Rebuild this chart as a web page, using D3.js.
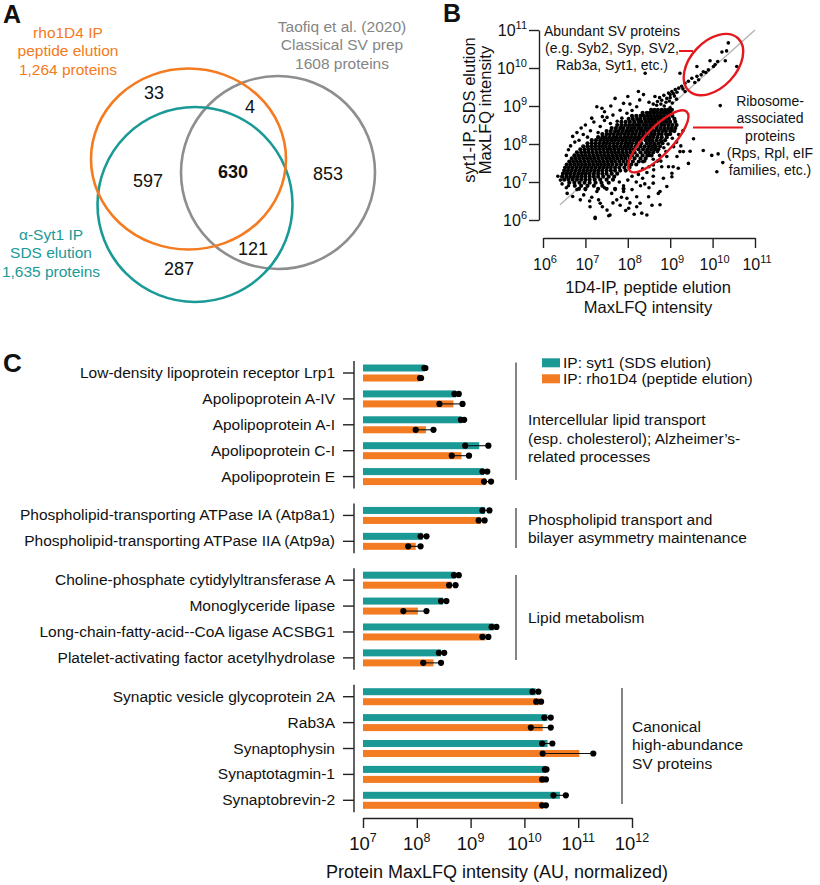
<!DOCTYPE html>
<html><head><meta charset="utf-8">
<script src="https://cdn.jsdelivr.net/npm/d3@7"></script>
<style>
body{margin:0;background:#fff}
svg{display:block}
text{font-family:"Liberation Sans",Arial,Helvetica,sans-serif;fill:#111}
</style></head>
<body><svg id="c" width="820" height="885"></svg>
<script>
// ================= DATA =================
// Panel A – Venn
const vennSetLabels = [
  ["rho1D4 IP","peptide elution","1,264 proteins"],
  ["α-Syt1 IP","SDS elution","1,635 proteins"],
  ["Taofiq et al. (2020)","Classical SV prep","1608 proteins"]
];
const vennCounts = [33, 4, 597, 630, 853, 121, 287];

// Panel B – scatter (log10 values). Dense core read row by row: "log10(y)|log10(x) ..."
const scatterDenseRows = [
"8.9|8.55 8.63 8.71 8.8 8.88 8.96 9.04",
"8.82|8.35 8.45 8.52 8.6 8.68 8.76 8.84 8.92 9.0",
"8.74|8.1 8.2 8.3 8.38 8.46 8.54 8.62 8.7 8.78 8.86 8.95 9.05",
"8.66|8.02 8.12 8.22 8.3 8.4 8.48 8.56 8.64 8.72 8.8 8.88 8.97 9.1",
"8.58|7.85 7.95 8.05 8.15 8.25 8.33 8.42 8.5 8.58 8.66 8.75 8.83 8.92 9.0 9.12",
"8.5|7.75 7.85 7.94 8.03 8.12 8.2 8.28 8.37 8.45 8.54 8.62 8.7 8.79 8.87 8.96 9.05 9.15",
"8.42|7.62 7.72 7.82 7.9 8.0 8.08 8.16 8.25 8.33 8.42 8.5 8.58 8.68 8.77 8.86 8.95 9.03 9.12",
"8.34|7.5 7.6 7.7 7.78 7.87 7.96 8.04 8.12 8.21 8.3 8.38 8.47 8.56 8.64 8.73 8.82 8.9 9.0 9.1",
"8.26|7.4 7.5 7.58 7.67 7.76 7.84 7.93 8.01 8.1 8.18 8.27 8.36 8.45 8.55 8.63 8.72 8.8 8.9 9.0",
"8.18|7.3 7.4 7.48 7.57 7.66 7.74 7.83 7.92 8.0 8.08 8.17 8.26 8.34 8.44 8.52 8.6 8.7 8.8 8.92",
"8.1|7.15 7.25 7.35 7.44 7.53 7.62 7.7 7.79 7.88 7.96 8.05 8.14 8.22 8.3 8.42 8.5 8.58 8.68 8.78 8.88",
"8.02|7.05 7.15 7.24 7.33 7.42 7.5 7.58 7.67 7.76 7.85 7.94 8.02 8.1 8.2 8.32 8.45 8.53 8.62 8.72 8.82",
"7.94|6.95 7.05 7.14 7.23 7.32 7.4 7.48 7.57 7.66 7.74 7.83 7.92 8.0 8.08 8.18 8.3 8.4 8.5 8.58 8.66 8.76",
"7.86|6.88 6.98 7.07 7.16 7.25 7.34 7.43 7.52 7.6 7.69 7.78 7.87 7.96 8.05 8.14 8.25 8.36 8.46 8.55 8.64 8.72",
"7.78|6.8 6.9 6.99 7.08 7.17 7.26 7.35 7.44 7.53 7.62 7.7 7.79 7.88 7.97 8.06 8.16 8.3 8.42 8.5 8.6",
"7.7|6.74 6.83 6.92 7.01 7.1 7.19 7.28 7.37 7.46 7.55 7.64 7.73 7.82 7.91 8.0 8.1 8.22 8.35 8.46 8.56",
"7.62|6.68 6.77 6.86 6.95 7.04 7.13 7.22 7.31 7.4 7.49 7.58 7.67 7.76 7.85 7.94 8.04 8.16 8.3 8.42",
"7.54|6.62 6.71 6.8 6.89 6.98 7.07 7.16 7.25 7.34 7.43 7.52 7.61 7.7 7.8 7.9 8.0 8.12 8.26 8.36",
"7.46|6.56 6.65 6.74 6.83 6.92 7.01 7.1 7.19 7.28 7.37 7.46 7.55 7.64 7.74 7.84 7.95 8.08 8.2",
"7.38|6.52 6.61 6.7 6.79 6.88 6.97 7.06 7.15 7.24 7.33 7.42 7.51 7.6 7.7 7.8 7.92 8.04",
"7.3|6.5 6.59 6.68 6.77 6.86 6.95 7.04 7.13 7.22 7.31 7.4 7.5 7.6 7.7 7.82 7.95",
"7.22|6.47 6.56 6.65 6.74 6.83 6.92 7.01 7.1 7.2 7.3 7.4 7.5 7.62 7.75",
"7.14|6.45 6.55 6.64 6.73 6.82 6.91 7.0 7.1 7.2 7.3 7.42 7.55 7.68",
"7.06|6.5 6.6 6.7 6.8 6.9 7.0 7.1 7.22 7.35 7.5 7.65",
"6.98|6.62 6.74 6.86 6.98 7.1 7.24 7.38 7.55",
"6.9|6.75 6.9 7.05 7.2 7.4",
"6.82|6.85 7.0 7.3 7.5 7.7 7.9"
];
// Sparse / isolated points [log10(x), log10(y)]
const scatterSparse = [
 [10.37,10.66],[10.33,10.45],[10.22,10.42],[10.57,10.04],[10.3,10.19],[10.06,10.09],[9.94,10.19],[10.12,10.17],
 [9.63,10.04],[10.02,10.04],[9.9,9.95],[9.78,9.9],[9.73,9.82],[9.63,9.78],[9.51,9.73],[9.67,9.69],[9.43,9.65],
 [8.41,9.86],[9.23,9.86],[9.84,9.88],[9.58,9.62],[9.35,9.6],[9.27,9.52],[9.2,9.47],[9.12,9.43],[9.04,9.38],
 [8.96,9.34],[9.35,9.38],[9.3,9.45],[9.16,9.36],[9.08,9.32],[8.25,9.38],[8.37,9.3],[9.0,9.3],
 [8.64,9.25],[8.75,9.22],[8.85,9.28],[8.92,9.2],[9.0,9.22],[9.1,9.26],[8.7,9.12],[8.8,9.15],[8.9,9.1],
 [8.98,9.13],[9.05,9.08],[8.6,9.05],[8.68,9.02],[8.78,9.05],[8.86,9.0],[9.15,9.18],[8.5,9.1],[9.0,8.95],
 [7.27,8.98],[7.39,8.94],[7.7,9.2],[7.9,9.07],[7.82,8.89],[7.98,8.81],[7.65,8.76],[7.51,8.7],[7.86,8.68],
 [8.1,8.88],[8.21,8.98],[8.28,9.16],[7.35,8.46],[7.59,8.54],[7.2,8.58],[7.45,8.62],[7.0,8.5],[6.9,8.42],
 [7.12,8.35],[7.3,8.3],[6.95,8.25],[7.05,8.18],[6.85,8.1],[6.75,8.05],[6.65,7.95],[6.6,7.85],[6.7,8.2],
 [6.55,7.7],[8.05,9.05],[7.6,9.0],[7.75,8.6],[8.0,9.25],[7.4,8.72],[7.15,8.68],[6.8,8.3],[7.45,8.85],
 [10.18,9.01],[9.55,8.14],[9.78,7.83],[9.98,7.7],[9.47,7.81],[9.31,7.8],[9.23,7.8],[10.13,7.74],[10.24,7.51],
 [10.1,7.27],[9.07,7.4],[8.96,7.4],[9.04,7.14],[9.19,7.36],[8.84,7.1],[8.6,6.97],[8.76,6.4],[9.16,7.67],
 [9.08,7.93],[8.92,7.67],[8.8,7.4],[8.61,7.32],[9.43,7.49],[9.2,8.25],[9.3,8.35],[9.15,8.05],[9.25,7.95],
 [8.92,6.88],[8.76,6.75],[9.04,7.23],[8.7,7.55],[8.9,7.8],
 [7.23,6.04],[7.55,6.11],[8.02,6.31],[8.45,6.13],[8.33,6.18],[8.57,6.39],[7.11,6.35],[7.35,6.44],[7.74,6.53],
 [7.82,6.39],[7.51,6.26],[8.21,6.35],[6.88,6.53],[6.96,6.66],[6.57,6.7],[8.21,6.61],[7.62,6.7],[7.98,6.57],
 [7.31,6.53],[8.49,6.61],[8.29,6.44],[7.27,6.75],[8.72,6.7],[7.58,6.13],[7.23,6.07],[6.7,6.62],[7.0,6.8],
 [7.15,6.6],[7.45,6.85],[7.7,6.8],[7.9,6.75],[8.1,6.8],[8.3,6.9],[8.5,6.85],[7.85,6.6],[8.05,6.45],[7.4,6.35],
 [7.65,6.45],[7.95,6.25],[8.15,6.15],[6.8,6.8],[6.6,6.9],[7.1,6.5],[8.4,6.95],[8.2,7.0],[8.6,7.15],[7.9,6.9],
 [8.0,7.05],[8.35,7.1],[8.45,7.25],[8.25,7.2],[6.41,7.05],[6.57,7.23],[6.35,7.15],[6.45,6.95],[6.55,6.85],
 [8.1,7.15],[7.8,7.0],[8.5,7.4],[8.35,7.35],[8.4,7.55],[8.6,7.6],[8.5,7.7],[8.7,7.8],[8.65,7.95],[8.8,8.05],
 [8.95,8.0],[9.05,8.15],[8.95,8.25],[9.05,8.35],[9.12,8.42],[8.85,7.9],[8.75,7.7],[8.6,7.45],[8.78,7.55]
];
const scatterTicks = [1e6,1e7,1e8,1e9,1e10,1e11];
const scatterXTitle = ["1D4-IP, peptide elution","MaxLFQ intensity"];
const scatterYTitle = ["syt1-IP, SDS elution","MaxLFQ intensity"];
const annotSV = ["Abundant SV proteins","(e.g. Syb2, Syp, SV2,","Rab3a, Syt1, etc.)"];
const annotRibo = ["Ribosome-","associated","proteins","(Rps, Rpl, eIF","families, etc.)"];
const ellipseCentersLog = [[10.02,10.09],[8.72,8.07]];

// Panel C – bars (log10 intensities)
const barProteins = ["Low-density lipoprotein receptor Lrp1","Apolipoprotein A-IV","Apolipoprotein A-I","Apolipoprotein C-I","Apolipoprotein E",
 "Phospholipid-transporting ATPase IA (Atp8a1)","Phospholipid-transporting ATPase IIA (Atp9a)",
 "Choline-phosphate cytidylyltransferase A","Monoglyceride lipase","Long-chain-fatty-acid--CoA ligase ACSBG1","Platelet-activating factor acetylhydrolase",
 "Synaptic vesicle glycoprotein 2A","Rab3A","Synaptophysin","Synaptotagmin-1","Synaptobrevin-2"];
const barGroup = [0,0,0,0,0,1,1,2,2,2,2,3,3,3,3,3];
const groupLabels = [["Intercellular lipid transport","(esp. cholesterol); Alzheimer’s-","related processes"],
 ["Phospholipid transport and","bilayer asymmetry maintenance"],["Lipid metabolism"],["Canonical","high-abundance","SV proteins"]];
const syt1Mean = [8.15,8.73,8.83,9.16,9.25,9.27,8.11,8.72,8.49,9.43,8.45,10.21,10.43,10.43,10.40,10.66];
const syt1Reps = [[8.14,8.16],[8.70,8.78],[8.82,8.88],[8.90,9.33],[9.22,9.31],[9.22,9.35],[8.07,8.18],[8.69,8.78],[8.45,8.55],[9.39,9.48],[8.41,8.51],[10.15,10.26],[10.37,10.49],[10.33,10.52],[10.38,10.41],[10.54,10.77]];
const rhoMean = [8.07,8.68,8.17,8.83,9.29,9.19,7.98,8.65,8.02,9.28,8.31,10.28,10.34,11.02,10.37,10.35];
const rhoReps = [[8.06,8.08],[8.42,8.85],[7.98,8.31],[8.65,8.97],[9.25,9.38],[9.15,9.26],[7.84,8.07],[8.60,8.72],[7.75,8.18],[9.22,9.33],[8.12,8.45],[10.22,10.31],[10.12,10.49],[10.34,11.28],[10.33,10.40],[10.33,10.40]];
const legendLabels = ["IP: syt1 (SDS elution)","IP: rho1D4 (peptide elution)"];
const barTicks = [1e7,1e8,1e9,1e10,1e11,1e12];
const barXTitle = "Protein MaxLFQ intensity (AU, normalized)";

// ================= STYLE / LAYOUT =================
const ORANGE="#F47B20", TEAL="#1A9A97", GRAY="#8E8E8E", GRAYTXT="#858585", RED="#E3191F";
const BAR_TEAL="#1B9995", BAR_ORANGE="#F37B22";
const svg = d3.select("#c");
const P = v => Math.pow(10, v);

function supLabel(sel, x, y, exp, anchor, size, supSize, supDy){
  const t = sel.append("text").attr("x",x).attr("y",y).attr("text-anchor",anchor).style("font-size",size+"px");
  t.append("tspan").text("10");
  t.append("tspan").attr("dy",supDy).style("font-size",supSize+"px").text(exp);
  return t;
}

// Panel letters
svg.append("text").attr("x",3).attr("y",23).style("font-size","25px").style("font-weight","bold").text("A");
svg.append("text").attr("x",443).attr("y",22).style("font-size","25px").style("font-weight","bold").text("B");
svg.append("text").attr("x",3).attr("y",372).style("font-size","26px").style("font-weight","bold").text("C");

// ================= PANEL A =================
const vennShapes = [
  {cx:278, cy:172.5, rx:97, ry:96.5, color:GRAY},
  {cx:195, cy:204.5, rx:97.5, ry:97.5, color:TEAL},
  {cx:188.5, cy:159, rx:97.5, ry:90.5, color:ORANGE}
];
svg.append("g").selectAll("ellipse").data(vennShapes).join("ellipse")
  .attr("cx",d=>d.cx).attr("cy",d=>d.cy).attr("rx",d=>d.rx).attr("ry",d=>d.ry)
  .attr("fill","none").attr("stroke",d=>d.color).attr("stroke-width",2.6);

const vennLabelLayout = [
  {x:68, y:38, color:ORANGE},
  {x:51, y:240, color:TEAL},
  {x:342, y:32, color:GRAYTXT}
];
vennSetLabels.forEach((lines,i)=>{
  const L = vennLabelLayout[i];
  lines.forEach((s,j)=>{
    svg.append("text").attr("x",L.x).attr("y",L.y+j*18.3).attr("text-anchor","middle")
      .style("font-size","15.5px").style("fill",L.color).text(s);
  });
});
const vennCountPos = [[154,99],[250,113],[148,187],[233,178],[328,180],[253,255],[179,275]];
vennCounts.forEach((c,i)=>{
  svg.append("text").attr("x",vennCountPos[i][0]).attr("y",vennCountPos[i][1]).attr("text-anchor","middle")
    .style("font-size","18px").style("font-weight", c===630?"bold":"normal").text(c);
});

// ================= PANEL B =================
const sx = d3.scaleLog().domain([1e6,1e11]).range([543,755]);
const sy = d3.scaleLog().domain([1e6,1e11]).range([220,30]);

const densePoints = [];
scatterDenseRows.forEach(r=>{
  const [ly, xs] = r.split("|");
  xs.trim().split(/\s+/).forEach(lx=>densePoints.push([+lx, +ly]));
});

// diagonal y = x
svg.append("line").attr("x1",sx(P(6.4))).attr("y1",sy(P(6.4))).attr("x2",sx(1e11)).attr("y2",sy(1e11))
  .attr("stroke","#b5b5b5").attr("stroke-width",1.4);

svg.append("g").selectAll("circle").data(densePoints).join("circle")
  .attr("cx",d=>sx(P(d[0]))).attr("cy",d=>sy(P(d[1]))).attr("r",2.1).attr("fill","#000");
svg.append("g").selectAll("circle").data(scatterSparse).join("circle")
  .attr("cx",d=>sx(P(d[0]))).attr("cy",d=>sy(P(d[1]))).attr("r",1.8).attr("fill","#000");

// axes
const yAx = svg.append("g").attr("transform","translate(539,0)")
  .call(d3.axisLeft(sy).tickValues(scatterTicks).tickSize(10).tickSizeOuter(0).tickFormat(""));
const xAx = svg.append("g").attr("transform","translate(0,238)")
  .call(d3.axisBottom(sx).tickValues(scatterTicks).tickSize(10).tickSizeOuter(0).tickFormat(""));
[yAx,xAx].forEach(a=>{a.selectAll("path,line").attr("stroke","#222").attr("stroke-width",1.4);});
scatterTicks.forEach(v=>{
  const e = Math.round(Math.log10(v));
  supLabel(svg, 527, sy(v)+6, e, "end", 16, 11, -7);
  supLabel(svg, sx(v)+2, 270, e, "middle", 16, 11, -7);
});
scatterXTitle.forEach((s,i)=>{
  svg.append("text").attr("x",648).attr("y",293+i*19.5).attr("text-anchor","middle").style("font-size","16.5px").text(s);
});
scatterYTitle.forEach((s,i)=>{
  svg.append("text").attr("transform",`translate(${475+i*15.5},110) rotate(-90)`).attr("text-anchor","middle")
    .style("font-size","16.5px").text(s);
});

// annotations
const ell = [{c:ellipseCentersLog[0], a:36, b:23, ang:-47},{c:ellipseCentersLog[1], a:41, b:13.5, ang:-46}];
ell.forEach(e=>{
  const cx = sx(P(e.c[0])), cy = sy(P(e.c[1]));
  svg.append("ellipse").attr("cx",0).attr("cy",0).attr("rx",e.a).attr("ry",e.b)
    .attr("transform",`translate(${cx},${cy}) rotate(${e.ang})`)
    .attr("fill","none").attr("stroke",RED).attr("stroke-width",2.4);
});
svg.append("line").attr("x1",679).attr("y1",51).attr("x2",693).attr("y2",51).attr("stroke",RED).attr("stroke-width",2);
svg.append("line").attr("x1",693).attr("y1",127.5).attr("x2",743).attr("y2",127.5).attr("stroke",RED).attr("stroke-width",2);
annotSV.forEach((s,i)=>{
  svg.append("text").attr("x",612).attr("y",36+i*17.2).attr("text-anchor","middle").style("font-size","14px").text(s);
});
annotRibo.forEach((s,i)=>{
  svg.append("text").attr("x",770).attr("y",106+i*17.3).attr("text-anchor","middle").style("font-size","14px").text(s);
});

// ================= PANEL C =================
const bx = d3.scaleLog().domain([1e7,1e12]).range([363,632]);
const slot = barProteins.map((_,i)=>i + 0.5*barGroup[i]);
const by = d3.scaleLinear().domain([0,16.5]).range([373,800.3]);

const rows = barProteins.map((name,i)=>({name, g:barGroup[i], y:by(slot[i]),
  t:P(syt1Mean[i]), o:P(rhoMean[i]), tr:syt1Reps[i].map(P), or:rhoReps[i].map(P)}));

const gC = svg.append("g");
gC.selectAll("rect.t").data(rows).join("rect").attr("class","t")
  .attr("x",bx(1e7)).attr("y",d=>d.y-8.5).attr("width",d=>bx(d.t)-bx(1e7)).attr("height",7).attr("fill",BAR_TEAL);
gC.selectAll("rect.o").data(rows).join("rect").attr("class","o")
  .attr("x",bx(1e7)).attr("y",d=>d.y+1.5).attr("width",d=>bx(d.o)-bx(1e7)).attr("height",7).attr("fill",BAR_ORANGE);
rows.forEach(d=>{
  [[d.tr,d.y-5],[d.or,d.y+5]].forEach(([reps,yy])=>{
    gC.append("line").attr("x1",bx(d3.min(reps))).attr("x2",bx(d3.max(reps))).attr("y1",yy).attr("y2",yy)
      .attr("stroke","#111").attr("stroke-width",1.1);
    reps.forEach(v=>gC.append("circle").attr("cx",bx(v)).attr("cy",yy).attr("r",3.1).attr("fill","#000"));
  });
});
gC.selectAll("text.lab").data(rows).join("text").attr("class","lab")
  .attr("x",335).attr("y",d=>d.y+5).attr("text-anchor","end").style("font-size","15.5px").text(d=>d.name);
d3.range(4).forEach(g=>{
  const ys = rows.filter(r=>r.g===g).map(r=>r.y);
  gC.append("line").attr("x1",354).attr("x2",354).attr("y1",d3.min(ys)-12).attr("y2",d3.max(ys)+12)
    .attr("stroke","#222").attr("stroke-width",1.4);
});
gC.selectAll("line.tk").data(rows).join("line").attr("class","tk")
  .attr("x1",343).attr("x2",354).attr("y1",d=>d.y).attr("y2",d=>d.y).attr("stroke","#222").attr("stroke-width",1.4);

const xC = svg.append("g").attr("transform","translate(0,818)")
  .call(d3.axisBottom(bx).tickValues(barTicks).tickSize(10).tickSizeOuter(0).tickFormat(""));
xC.selectAll("path,line").attr("stroke","#222").attr("stroke-width",1.4);
barTicks.forEach(v=>{
  supLabel(svg, bx(v), 850, Math.round(Math.log10(v)), "middle", 18.5, 12.5, -8);
});
svg.append("text").attr("x",497).attr("y",878).attr("text-anchor","middle").style("font-size","18px").text(barXTitle);

const groupLayout = [
  {lx:516, y1:362.5, y2:480, tx:528, ty:425},
  {lx:516, y1:508, y2:548, tx:528, ty:524.5},
  {lx:516, y1:575, y2:660, tx:528, ty:623},
  {lx:622, y1:688, y2:804, tx:632, ty:731.5}
];
groupLabels.forEach((lines,g)=>{
  const L = groupLayout[g];
  svg.append("line").attr("x1",L.lx).attr("x2",L.lx).attr("y1",L.y1).attr("y2",L.y2).attr("stroke","#333").attr("stroke-width",1.2);
  lines.forEach((s,j)=>svg.append("text").attr("x",L.tx).attr("y",L.ty+j*18.5).style("font-size","15.5px").text(s));
});

[BAR_TEAL,BAR_ORANGE].forEach((c,i)=>{
  svg.append("rect").attr("x",542).attr("y",358.3+i*16).attr("width",18).attr("height",9).attr("fill",c);
  svg.append("text").attr("x",563).attr("y",367.5+i*16).style("font-size","15.5px").text(legendLabels[i]);
});
</script>
</body></html>
